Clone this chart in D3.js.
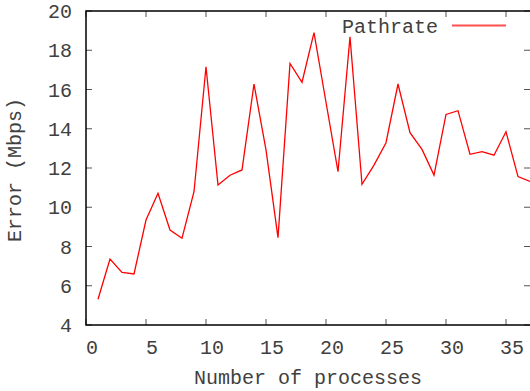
<!DOCTYPE html>
<html>
<head>
<meta charset="utf-8">
<script src="https://cdn.jsdelivr.net/npm/d3@7"></script>
<style>
  html, body { margin: 0; padding: 0; background: #fff; }
  svg { display: block; }
  text { font-family: "Liberation Mono", "DejaVu Sans Mono", monospace; fill: #404040; }
</style>
</head>
<body>
<svg id="chart" width="530" height="391"></svg>
<script>
const processes = d3.range(1, 38);
const pathrateError = [5.31, 7.36, 6.68, 6.60, 9.35, 10.71, 8.84, 8.42, 10.79, 17.16,
  11.13, 11.63, 11.90, 16.28, 12.92, 8.45, 17.33, 16.37, 18.90, 15.35,
  11.81, 18.69, 11.17, 12.15, 13.29, 16.28, 13.80, 12.95, 11.64, 14.73,
  14.92, 12.70, 12.83, 12.65, 13.85, 11.56, 11.32];
const xTicks = [0, 5, 10, 15, 20, 25, 30, 35];
const yTicks = [4, 6, 8, 10, 12, 14, 16, 18, 20];
const seriesName = "Pathrate";

(function () {
const svg = d3.select("#chart");
const pLeft = 86, pRight = 530, pTop = 11, pBottom = 325;
const x = d3.scaleLinear().domain([0, 37]).range([pLeft, pRight]);
const y = d3.scaleLinear().domain([4, 20]).range([pBottom, pTop]);
const tickLen = 6;

svg.append("clipPath").attr("id", "clip").append("rect")
  .attr("x", pLeft).attr("y", pTop).attr("width", pRight - pLeft).attr("height", pBottom - pTop);

const g = svg.append("g");
xTicks.forEach(t => {
  g.append("line").attr("x1", x(t)).attr("x2", x(t)).attr("y1", pBottom).attr("y2", pBottom - tickLen)
    .attr("stroke", "#555").attr("stroke-width", 1);
  g.append("line").attr("x1", x(t)).attr("x2", x(t)).attr("y1", pTop).attr("y2", pTop + tickLen)
    .attr("stroke", "#555").attr("stroke-width", 1);
  g.append("text").attr("x", x(t) + 6).attr("y", 354).attr("text-anchor", "middle")
    .attr("font-size", 20).text(t);
});
yTicks.forEach(t => {
  g.append("line").attr("x1", pLeft).attr("x2", pLeft + tickLen).attr("y1", y(t)).attr("y2", y(t))
    .attr("stroke", "#555").attr("stroke-width", 1);
  g.append("line").attr("x1", pRight).attr("x2", pRight - tickLen).attr("y1", y(t)).attr("y2", y(t))
    .attr("stroke", "#555").attr("stroke-width", 1);
  g.append("text").attr("x", 72).attr("y", y(t) + 7).attr("text-anchor", "end")
    .attr("font-size", 20).text(t);
});

svg.append("path")
  .attr("d", `M${pRight + 1},${pTop}H${pLeft}V${pBottom}H${pRight + 1}`)
  .attr("fill", "none").attr("stroke", "#000").attr("stroke-width", 1.5);

const line = d3.line().x((d, i) => x(processes[i])).y(d => y(d));
svg.append("path").datum(pathrateError)
  .attr("clip-path", "url(#clip)")
  .attr("d", line).attr("fill", "none").attr("stroke", "#ff0000").attr("stroke-width", 1.3);

svg.append("text").attr("x", 438).attr("y", 33).attr("text-anchor", "end")
  .attr("font-size", 20).text(seriesName);
svg.append("line").attr("x1", 452).attr("x2", 506).attr("y1", 25.5).attr("y2", 25.5)
  .attr("stroke", "#ff5050").attr("stroke-width", 2);

svg.append("text").attr("x", 308).attr("y", 384).attr("text-anchor", "middle")
  .attr("font-size", 20).text("Number of processes");
svg.append("text").attr("transform", "translate(21,170) rotate(-90)").attr("text-anchor", "middle")
  .attr("font-size", 20).text("Error (Mbps)");
})();
</script>
</body>
</html>
